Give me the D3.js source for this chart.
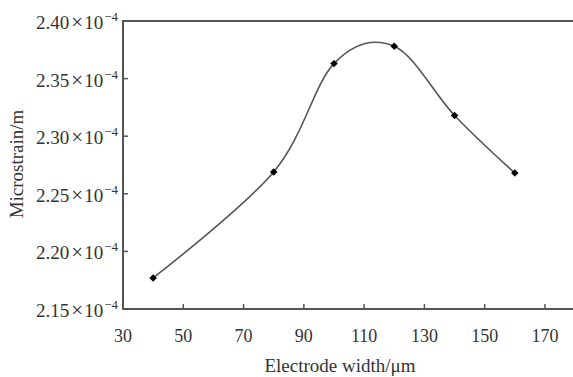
<!DOCTYPE html>
<html>
<head>
<meta charset="utf-8">
<script src="https://cdn.jsdelivr.net/npm/d3@7"></script>
<style>
  body { margin: 0; background: #fff; }
  text { font-family: "Liberation Serif", "Times New Roman", serif; fill: #333; }
</style>
</head>
<body>
<svg id="chart"></svg>
<script>
// electrode width (um) vs microstrain (x1e-4)
var widths = [40, 80, 100, 120, 140, 160];
var strain = [2.177, 2.269, 2.363, 2.378, 2.318, 2.268];
var xTicks = [30, 50, 70, 90, 110, 130, 150, 170];
var yTicks = [2.15, 2.20, 2.25, 2.30, 2.35, 2.40];

var W = 573, H = 377;
var plotL = 123, plotT = 21, plotR = 573, plotB = 309;

var svg = d3.select("#chart").attr("width", W).attr("height", H);

var x = d3.scaleLinear().domain([30, 179.3]).range([plotL, plotR]);
var y = d3.scaleLinear().domain([2.15, 2.40]).range([plotB, plotT]);

var axisColor = "#555";

// frame: left, top, bottom
svg.append("path")
    .attr("d", `M${plotR},${plotT}H${plotL}V${plotB}H${plotR}`)
    .attr("fill", "none")
    .attr("stroke", axisColor)
    .attr("stroke-width", 2);

// x ticks (inward)
var xAxis = svg.append("g");
xAxis.selectAll("line")
    .data(xTicks.slice(1))
    .enter()
    .append("line")
    .attr("x1", d => x(d)).attr("x2", d => x(d))
    .attr("y1", plotB).attr("y2", plotB - 5)
    .attr("stroke", axisColor).attr("stroke-width", 1.5);
xAxis.selectAll("text")
    .data(xTicks)
    .enter()
    .append("text")
    .attr("x", d => x(d))
    .attr("y", 342)
    .attr("text-anchor", "middle")
    .attr("font-size", 18)
    .text(d => d);

// y ticks
var yAxis = svg.append("g");
yAxis.selectAll("line")
    .data(yTicks.slice(1, -1))
    .enter()
    .append("line")
    .attr("x1", plotL).attr("x2", plotL + 5)
    .attr("y1", d => y(d)).attr("y2", d => y(d))
    .attr("stroke", axisColor).attr("stroke-width", 1.5);
var yl = yAxis.selectAll("text")
    .data(yTicks)
    .enter()
    .append("text")
    .attr("x", 118)
    .attr("y", d => y(d) + 8)
    .attr("text-anchor", "end")
    .attr("font-size", 19);
yl.append("tspan").text(d => d.toFixed(2));
yl.append("tspan").attr("font-size", 21).attr("dx", 2).text("\u00d7");
yl.append("tspan").attr("dx", 1).text("10");
yl.append("tspan").attr("dy", -8).attr("dx", 1).attr("font-size", 13).text("\u22124");

// titles
svg.append("text")
    .attr("x", 340).attr("y", 372)
    .attr("text-anchor", "middle")
    .attr("font-size", 19)
    .text("Electrode width/\u03bcm");
svg.append("text")
    .attr("transform", "translate(23,164) rotate(-90)")
    .attr("text-anchor", "middle")
    .attr("font-size", 19)
    .text("Microstrain/m");

// curve
var pts = widths.map((w, i) => [w, strain[i]]);
var line = d3.line()
    .x(d => x(d[0]))
    .y(d => y(d[1]))
    .curve(d3.curveCardinal.tension(0));
svg.append("path")
    .datum(pts)
    .attr("d", line)
    .attr("fill", "none")
    .attr("stroke", "#555")
    .attr("stroke-width", 1.6);

svg.selectAll(".pt")
    .data(pts)
    .enter()
    .append("path")
    .attr("class", "pt")
    .attr("transform", d => `translate(${x(d[0])},${y(d[1])}) rotate(45)`)
    .attr("d", d3.symbol().type(d3.symbolSquare).size(28))
    .attr("fill", "#000");
</script>
</body>
</html>
